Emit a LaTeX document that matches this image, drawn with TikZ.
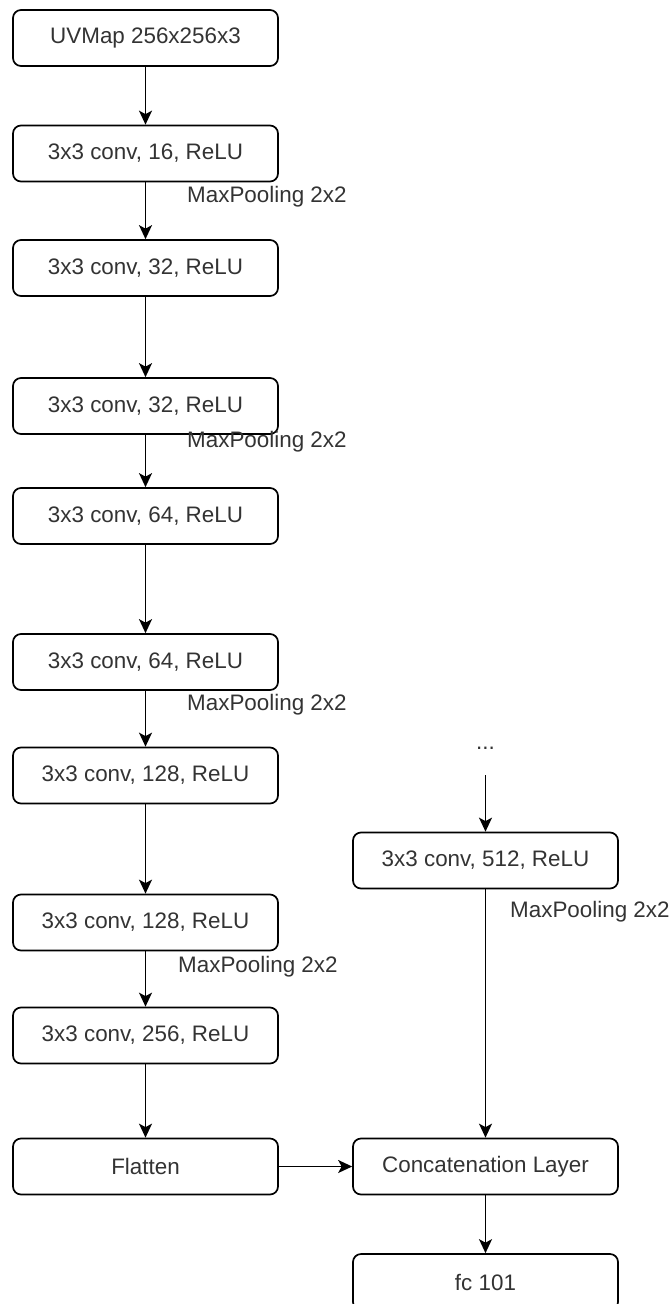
\documentclass[tikz,border=0pt]{standalone}
\usepackage{fontspec}
\setmainfont{Liberation Sans}
\usetikzlibrary{arrows.meta}
\definecolor{txt}{RGB}{51,51,51}
\begin{document}
\begin{tikzpicture}[x=1pt,y=-1pt,
  font=\fontsize{22.4}{26}\selectfont,
  layer/.style={draw=black, line width=1.7pt, rounded corners=8pt,
    minimum width=265pt, minimum height=56pt, inner sep=0pt,
    text=txt, fill=white},
  flow/.style={draw=black, line width=1.7pt,
    -{Stealth[length=14pt,width=13pt,inset=3.5pt]}},
  pool/.style={anchor=base west, text=txt, inner sep=0pt}]
\useasboundingbox (0,0) rectangle (671,1304);
\clip (0,0) rectangle (671,1304);

% main convolution column
\node[layer] (uv)  at (145.5,38)    {UVMap 256x256x3};
\node[layer] (c1)  at (145.5,153.5) {3x3 conv, 16, ReLU};
\node[layer] (c2)  at (145.5,268)   {3x3 conv, 32, ReLU};
\node[layer] (c3)  at (145.5,406)   {3x3 conv, 32, ReLU};
\node[layer] (c4)  at (145.5,516)   {3x3 conv, 64, ReLU};
\node[layer] (c5)  at (145.5,662)   {3x3 conv, 64, ReLU};
\node[layer] (c6)  at (145.5,775.5) {3x3 conv, 128, ReLU};
\node[layer] (c7)  at (145.5,922.5) {3x3 conv, 128, ReLU};
\node[layer] (c8)  at (145.5,1035.5){3x3 conv, 256, ReLU};
\node[layer] (fl)  at (145.5,1166.5){Flatten};

% second branch and head
\node[text=txt, inner sep=0pt, anchor=base] (dots) at (485.5,749) {...};
\coordinate (dstart) at (485.5,775);
\node[layer] (c9)  at (485.5,860.5) {3x3 conv, 512, ReLU};
\node[layer] (cat) at (485.5,1166.5){Concatenation Layer};
\node[layer] (fc)  at (485.5,1282)  {fc 101};

% pooling labels
\node[pool] (p1) at (187,202) {MaxPooling 2x2};
\node[pool] (p2) at (187,447) {MaxPooling 2x2};
\node[pool] (p3) at (187,710) {MaxPooling 2x2};
\node[pool] (p4) at (178,972) {MaxPooling 2x2};
\node[pool] (p5) at (510,917) {MaxPooling 2x2};

% connectors
\draw[flow] (uv) -- (c1);
\draw[flow] (c1) -- (c2);
\draw[flow] (c2) -- (c3);
\draw[flow] (c3) -- (c4);
\draw[flow] (c4) -- (c5);
\draw[flow] (c5) -- (c6);
\draw[flow] (c6) -- (c7);
\draw[flow] (c7) -- (c8);
\draw[flow] (c8) -- (fl);
\draw[flow] (dstart) -- (c9);
\draw[flow] (c9) -- (cat);
\draw[flow] (fl) -- (cat);
\draw[flow] (cat) -- (fc);
\end{tikzpicture}
\end{document}
